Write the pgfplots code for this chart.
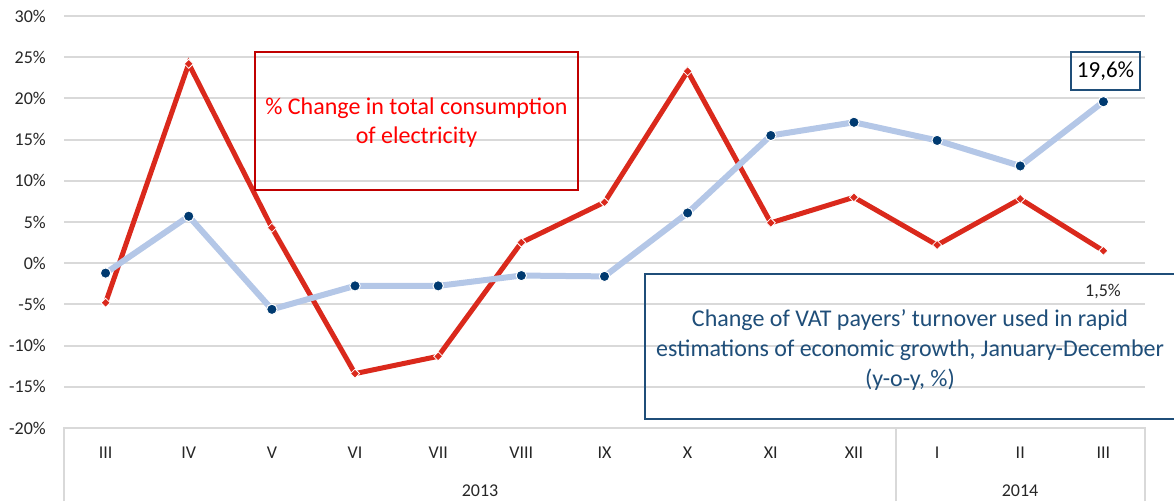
\documentclass[border=0pt]{standalone}
\usepackage{pgfplots}
\pgfplotsset{compat=1.18}
\usepackage{fontspec}
\setmainfont{Carlito}
\definecolor{gridc}{HTML}{D9D9D9}
\definecolor{redl}{HTML}{DA291C}
\definecolor{bluel}{HTML}{B4C7E7}
\definecolor{navy}{HTML}{003A70}
\definecolor{boxblue}{HTML}{1F4E79}
\definecolor{boxred}{HTML}{C00000}
\begin{document}
\begin{tikzpicture}[x=1pt,y=1pt]
\path[use as bounding box, clip] (0,0) rectangle (1174,501);
\begin{axis}[at={(64pt,73pt)}, anchor=south west, scale only axis,
  width=1081pt, height=412pt,
  xmin=-0.5, xmax=12.5, ymin=-20, ymax=30,
  ytick={-20,-15,...,30},
  yticklabel={\pgfmathprintnumber{\tick}\%},
  /pgf/number format/assume math mode=true,
  xtick={0,...,12},
  xticklabels={III,IV,V,VI,VII,VIII,IX,X,XI,XII,I,II,III},
  major tick length=0pt,
  axis line style={draw=none},
  ymajorgrids, major grid style={draw=gridc, line width=2pt},
  tick label style={font=\fontsize{18}{21}\selectfont, text=black!85},
  yticklabel style={anchor=east, inner sep=0pt, xshift=-18pt},
  xticklabel style={anchor=base, inner sep=0pt, yshift=-30pt},
  clip=false]
\addplot[redl, line width=5pt, mark=square*, mark size=3.2pt,
  mark options={fill=redl, draw=white, line width=0.8pt, rotate=45}]
  coordinates {(0,-4.8) (1,24.2) (2,4.3) (3,-13.4) (4,-11.3) (5,2.5) (6,7.4)
               (7,23.3) (8,4.9) (9,8.0) (10,2.2) (11,7.8) (12,1.5)};
\addplot[bluel, line width=6pt, mark=*, mark size=5.2pt,
  mark options={fill=navy, draw=white, line width=1pt}]
  coordinates {(0,-1.2) (1,5.7) (2,-5.6) (3,-2.75) (4,-2.75) (5,-1.5) (6,-1.6)
               (7,6.1) (8,15.5) (9,17.1) (10,14.9) (11,11.8) (12,19.6)};
\end{axis}
\draw[gridc, line width=2pt] (64,0) -- (64,74);
\draw[gridc, line width=2pt] (895.5,0) -- (895.5,74);
\draw[gridc, line width=2pt] (1145,0) -- (1145,74);
\node[anchor=base, font=\fontsize{18}{21}\selectfont, text=black!85] at (480,5) {2013};
\node[anchor=base, font=\fontsize{18}{21}\selectfont, text=black!85] at (1020,5) {2014};
\draw[boxred, line width=1.5pt] (255,311) rectangle (578,449);
\node[text=red, align=center, font=\fontsize{24}{29}\selectfont] at (416.5,378.5)
  {\% Change in total consumption\\of electricity};
\draw[boxblue, line width=2pt] (645,82) rectangle (1190,227);
\node[text=boxblue, align=center, font=\fontsize{24}{30}\selectfont] at (910,151)
  {Change of VAT payers’ turnover used in rapid\\estimations of economic growth, January-December\\(y-o-y, \%)};
\node[font=\fontsize{18}{21}\selectfont, text=black!85] at (1103,209) {1,5\%};
\node[draw=boxblue, line width=2pt, font=\fontsize{23}{27}\selectfont,
  minimum width=69pt, minimum height=38pt, inner sep=2pt] at (1105.5,430) {19,6\%};
\end{tikzpicture}
\end{document}
